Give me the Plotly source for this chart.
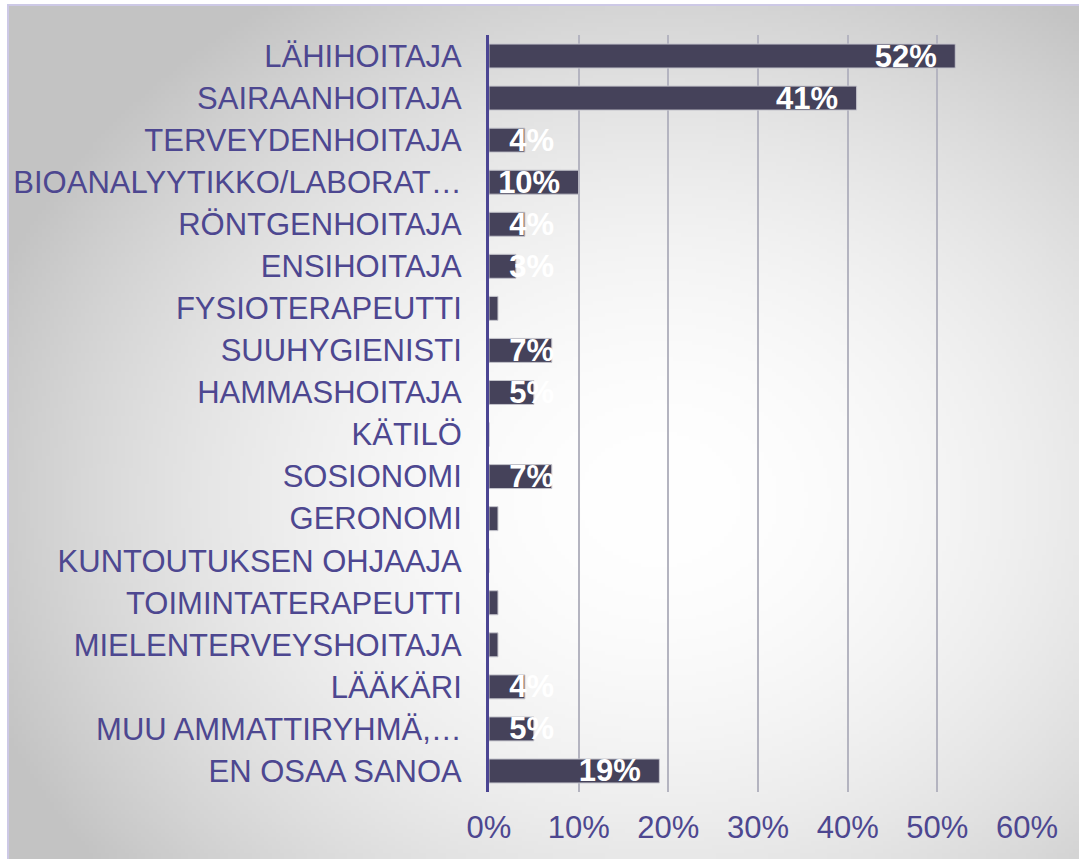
import base64
import struct
import zlib

import numpy as np
import plotly.graph_objects as go

categories = [
    "LÄHIHOITAJA",
    "SAIRAANHOITAJA",
    "TERVEYDENHOITAJA",
    "BIOANALYYTIKKO/LABORAT…",
    "RÖNTGENHOITAJA",
    "ENSIHOITAJA",
    "FYSIOTERAPEUTTI",
    "SUUHYGIENISTI",
    "HAMMASHOITAJA",
    "KÄTILÖ",
    "SOSIONOMI",
    "GERONOMI",
    "KUNTOUTUKSEN OHJAAJA",
    "TOIMINTATERAPEUTTI",
    "MIELENTERVEYSHOITAJA",
    "LÄÄKÄRI",
    "MUU AMMATTIRYHMÄ,…",
    "EN OSAA SANOA",
]
values = [52, 41, 4, 10, 4, 3, 1, 7, 5, 0, 7, 1, 0, 1, 1, 4, 5, 19]
tick_values = [0, 10, 20, 30, 40, 50, 60]
tick_labels = ["0%", "10%", "20%", "30%", "40%", "50%", "60%"]

W, H = 1079, 859
L, R, T, B = 489, 52, 35, 67
pw, ph = W - L - R, H - T - B


def px_x(px):
    return (px - L) / pw


def px_y(py):
    return (H - B - py) / ph


# radial gradient background as a small grayscale PNG
gw, gh = 270, 215
xs = np.linspace(8, W, gw)
ys = np.linspace(5, H, gh)
X, Y = np.meshgrid(xs, ys)
t = np.sqrt(((X - 660) / 720.0) ** 2 + ((Y - 500) / 600.0) ** 2)
t = np.clip(t, 0, 1)
g = (255 - 60 * t ** 1.9).astype(np.uint8)
raw = b"".join(b"\x00" + g[i].tobytes() for i in range(gh))


def chunk(tag, data):
    c = struct.pack(">I", len(data)) + tag + data
    return c + struct.pack(">I", zlib.crc32(tag + data) & 0xFFFFFFFF)


png = b"\x89PNG\r\n\x1a\n" + chunk(b"IHDR", struct.pack(">IIBBBBB", gw, gh, 8, 0, 0, 0, 0)) \
    + chunk(b"IDAT", zlib.compress(raw, 9)) + chunk(b"IEND", b"")
img_uri = "data:image/png;base64," + base64.b64encode(png).decode()

bar_color = "#45425a"
label_color = "#4d4790"
font_family = "Liberation Sans, Arial, sans-serif"

big = [v if v >= 10 else None for v in values]
small = [v if v < 10 else None for v in values]
big_text = [f"{v}%" if v is not None else "" for v in big]
small_text = [f"{v}%" if (v is not None and v >= 3) else "" for v in small]

fig = go.Figure()
fig.add_trace(go.Bar(
    y=categories, x=big, orientation="h",
    marker=dict(color=bar_color, line=dict(color="#c4c4cc", width=1)),
    text=big_text, texttemplate="%{text}\u2002",
    textposition="inside", insidetextanchor="end", constraintext="none",
    textangle=0,
    textfont=dict(family=font_family, size=31, color="white", weight="bold"),
    hoverinfo="skip", showlegend=False,
))
fig.add_trace(go.Bar(
    y=categories, x=small, orientation="h",
    marker=dict(color=bar_color, line=dict(color="#c4c4cc", width=1)),
    text=small_text, texttemplate="\u00a0\u00a0%{text}",
    textposition="inside", insidetextanchor="start", constraintext="none",
    textangle=0,
    textfont=dict(family=font_family, size=31, color="white", weight="bold"),
    hoverinfo="skip", showlegend=False,
))

fig.update_layout(
    template="none",
    width=W, height=H,
    margin=dict(l=L, r=R, t=T, b=B, pad=0),
    paper_bgcolor="white",
    plot_bgcolor="rgba(0,0,0,0)",
    barmode="overlay",
    bargap=0.43,
    font=dict(family=font_family, color=label_color),
    images=[dict(
        source=img_uri, xref="paper", yref="paper",
        x=px_x(8), y=px_y(5), sizex=(W - 8) / pw, sizey=(H - 5) / ph,
        xanchor="left", yanchor="top", sizing="stretch", layer="below",
    )],
    shapes=[dict(
        type="rect", xref="paper", yref="paper",
        x0=px_x(8), x1=px_x(W + 10), y0=px_y(5), y1=px_y(H + 10),
        line=dict(color="#cdc9e6", width=2), fillcolor="rgba(0,0,0,0)",
        layer="below",
    )],
    xaxis=dict(
        range=[0, 60], tickmode="array", tickvals=tick_values, ticktext=tick_labels,
        showgrid=True, gridcolor="#b4b4c0", gridwidth=1.5,
        zeroline=False, showline=False, ticks="",
        tickfont=dict(size=31, color=label_color, family=font_family),
        ticklabelstandoff=14, automargin=False,
    ),
    yaxis=dict(
        autorange="reversed", showgrid=False, zeroline=False,
        showline=True, linecolor="#4b4593", linewidth=3, ticks="",
        tickfont=dict(size=31, color=label_color, family=font_family),
        ticklabelstandoff=18, automargin=False,
    ),
)

fig.write_html(
    "out.html",
    config={"displayModeBar": False},
    post_script="document.body.style.margin='0';document.body.style.overflow='hidden';",
)
